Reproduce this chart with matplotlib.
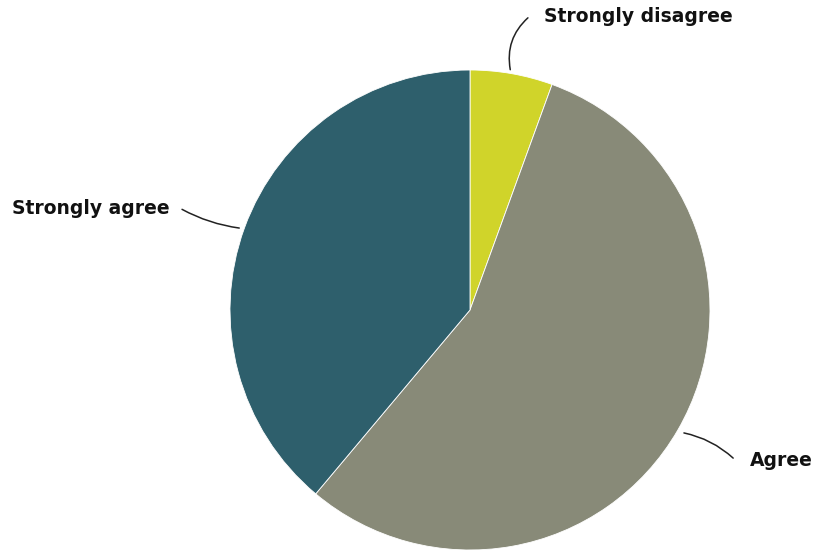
import matplotlib.pyplot as plt

labels = ["Strongly disagree", "Agree", "Strongly agree"]
counts = [1, 10, 7]
colors = ["#d0d42a", "#888a78", "#2e5f6c"]

# label positions (text anchor) and where the leader line meets the pie, in data units
label_xy = [(0.31, 1.225), (1.165, -0.625), (-1.25, 0.425)]
edge_xy = [(0.17, 0.99), (0.88, -0.51), (-0.95, 0.34)]
aligns = ["left", "left", "right"]
rads = [0.3, 0.15, 0.1]

fig = plt.figure(figsize=(8.18, 5.51), dpi=100)
ax = fig.add_axes([(470 - 240) / 818, (551 - 310 - 240) / 551, 480 / 818, 480 / 551])

ax.pie(counts, colors=colors, startangle=90, counterclock=False, radius=1,
       wedgeprops=dict(edgecolor="white", linewidth=0.6))
ax.set_xlim(-1, 1)
ax.set_ylim(-1, 1)
ax.set_aspect("equal")
ax.axis("off")

for lab, txy, exy, ha, rad in zip(labels, label_xy, edge_xy, aligns, rads):
    lx = txy[0] - 0.06 if ha == "left" else txy[0] + 0.04
    ax.annotate("", xy=exy, xytext=(lx, txy[1]),
                arrowprops=dict(arrowstyle="-", color="#222222", lw=1.1,
                                connectionstyle=f"arc3,rad={rad}"),
                annotation_clip=False)
    ax.text(txy[0], txy[1], lab, ha=ha, va="center", fontsize=13.5,
            fontweight="bold", family="DejaVu Sans", color="#111111",
            clip_on=False)

fig.savefig("out.png", dpi=100)
